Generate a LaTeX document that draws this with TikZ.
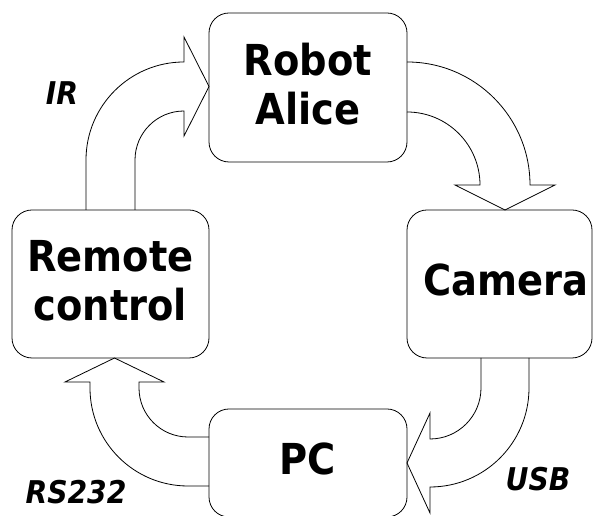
\documentclass[tikz,border=0pt]{standalone}
\usepackage{fontspec}
\setmainfont{DejaVu Sans Condensed}
\usepackage{tikz}

\tikzset{
  box/.style={draw, rounded corners=15pt, line width=0.6pt, inner sep=0pt, align=center,
    text depth=6pt, font=\fontsize{32}{36.75}\selectfont\bfseries},
  blockarrow/.style={draw, line width=0.6pt, line join=miter},
  link/.style={font=\fontsize{23.5}{26}\selectfont\bfseries\itshape}
}

\begin{document}
\begin{tikzpicture}[x=0.75pt, y=0.75pt]
  \useasboundingbox (0,0) rectangle (593,516);
  % Boxes
  \node[box, minimum width=148.5pt, minimum height=111.75pt] (robot) at (308,428.5) {Robot\\Alice};
  \node[box, minimum width=138.75pt, minimum height=111pt] (camera) at (499.5,232) {\hspace*{10pt}Camera};
  \node[box, minimum width=147.75pt, minimum height=111pt] (remote) at (110.5,232) {Remote\\control};
  \node[box, minimum width=148.5pt, minimum height=81pt] (pc) at (308,53) {PC};
  % Remote control -> Robot
  \draw[blockarrow] (86,306) -- (86,356) arc[start angle=180, end angle=90, radius=98]
    -- (184,479) -- (209,429.5) -- (184,380) -- (184,405)
    arc[start angle=90, end angle=180, radius=49] -- (135,306);
  % Robot -> Camera
  \draw[blockarrow] (407,454) arc[start angle=90, end angle=0, radius=123]
    -- (555,331) -- (505,306) -- (455,331) -- (480,331)
    arc[start angle=0, end angle=90, radius=73];
  % Camera -> PC
  \draw[blockarrow] (481,158) -- (481,128) arc[start angle=0, end angle=-90, radius=51]
    -- (430,103) -- (407,53) -- (430,3) -- (430,29)
    arc[start angle=-90, end angle=0, radius=99] -- (529,158);
  % PC -> Remote control
  \draw[blockarrow] (209,79) -- (188,79) arc[start angle=-90, end angle=-180, radius=49]
    -- (139,134) -- (164,134) -- (114.5,158) -- (65,134) -- (90,134) -- (90,128)
    arc[start angle=180, end angle=270, radius=98] -- (209,30);
  % Link labels
  \node[link] (ir) at (62,423) {IR};
  \node[link] (rs) at (76,24) {RS232};
  \node[link] (usb) at (538,37) {USB};
\end{tikzpicture}
\end{document}
